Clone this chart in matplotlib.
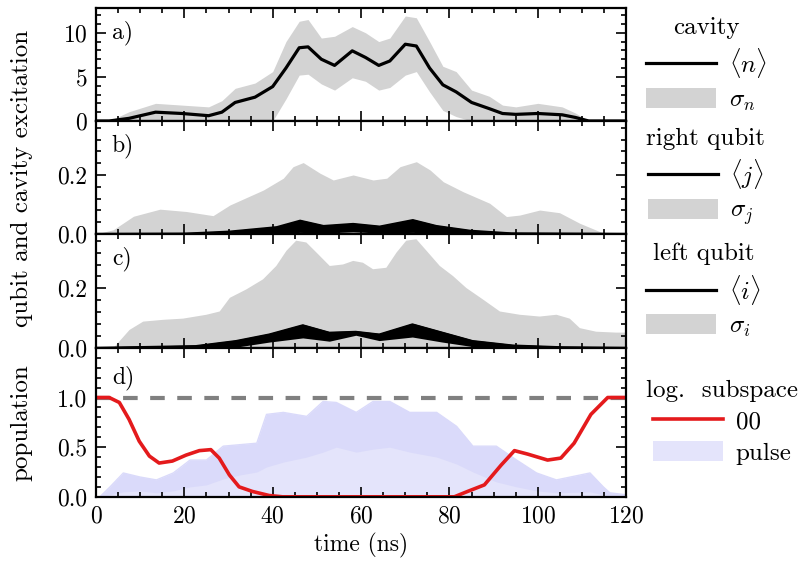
import matplotlib
matplotlib.use("Agg")
from matplotlib import pyplot as plt
from matplotlib.lines import Line2D
from matplotlib.ticker import MultipleLocator, FormatStrFormatter

# fonts: computer modern look
plt.rcParams['font.family'] = 'serif'
plt.rcParams['font.serif'] = ['cmr10']
plt.rcParams['mathtext.fontset'] = 'cm'
plt.rcParams['axes.formatter.use_mathtext'] = True
plt.rcParams['font.size'] = 17

# panel a) cavity
t_a = [0, 3, 7.5, 13.5, 19.5, 25.5, 28.5, 31.5, 36, 40, 43, 46, 48, 51, 54, 58, 61, 64,
       66.5, 70, 72.5, 75.5, 78.5, 81.5, 85, 89, 92, 95, 100, 105.5, 108.5, 111.5, 120]
n_mean = [0, 0, 0.3, 1.0, 0.85, 0.6, 1.0, 2.1, 2.7, 3.9, 6.0, 8.3, 8.4, 7.0, 6.3, 7.95, 7.2, 6.3,
          6.8, 8.7, 8.5, 6.0, 4.1, 3.3, 2.1, 1.4, 0.85, 0.75, 0.85, 0.7, 0.4, 0, 0]
n_upper = [0, 0, 1.05, 2.0, 1.8, 1.6, 2.3, 3.7, 4.3, 5.6, 9.0, 11.3, 11.5, 9.4, 9.6, 10.7, 10.0, 9.0,
           9.4, 11.9, 11.7, 9.0, 6.2, 5.6, 3.5, 2.8, 1.8, 1.6, 2.0, 1.6, 0.9, 0, 0]
n_lower = [0, 0, 0, 0, 0, 0, 0, 0, 0, 0, 2.5, 5.2, 5.3, 4.2, 3.5, 4.9, 4.5, 3.5,
           3.8, 5.2, 5.6, 3.3, 1.2, 0.5, 0, 0, 0, 0, 0, 0, 0, 0, 0]

# panel b) right qubit
t_sj = [0, 3.9, 8.5, 14.5, 20.5, 26.5, 30.3, 37.9, 42.4, 44.6, 46.9, 50.7, 53.7, 58.2, 62.7,
        65.8, 68.8, 72.5, 75.6, 78.6, 83.1, 89.1, 92.9, 95.9, 100.4, 104.9, 109.5, 114, 115.5, 120]
sigma_j = [0, 0.014, 0.06, 0.084, 0.076, 0.062, 0.098, 0.149, 0.189, 0.228, 0.242, 0.206, 0.183, 0.2, 0.183,
           0.189, 0.228, 0.245, 0.217, 0.177, 0.143, 0.104, 0.059, 0.064, 0.081, 0.072, 0.036, 0.008, 0, 0]
t_j = [0, 20, 30.3, 40.9, 46.2, 51.5, 58.2, 64.2, 71.7, 77, 84.6, 94, 120]
j_hi = [0, 0.001, 0.008, 0.023, 0.045, 0.027, 0.034, 0.025, 0.047, 0.027, 0.011, 0.002, 0]
j_lo = [0, 0, 0.002, 0.005, 0.008, 0.006, 0.01, 0.006, 0.008, 0.005, 0.002, 0, 0]

# panel c) left qubit
t_si = [0, 3.8, 7.5, 10.6, 15.1, 19.6, 24.9, 27.9, 30.2, 33.9, 37.7, 40.7, 43, 45.2, 47.5, 49.8,
        52.8, 55.8, 58.1, 60.3, 62.6, 65.6, 67.9, 70.1, 72.4, 74.7, 77.7, 80.7, 83.7, 87.5, 91.3,
        95.8, 100.3, 104.1, 107.1, 109.4, 113.1, 117.6, 120]
sigma_i = [0, 0, 0.062, 0.09, 0.096, 0.1, 0.113, 0.124, 0.17, 0.198, 0.232, 0.277, 0.328, 0.362, 0.356, 0.322,
           0.277, 0.282, 0.294, 0.288, 0.266, 0.271, 0.322, 0.362, 0.367, 0.328, 0.277, 0.243, 0.203, 0.164, 0.124,
           0.113, 0.107, 0.113, 0.1, 0.068, 0.056, 0.053, 0.053]
t_i = [0, 22.6, 31.7, 39.2, 46.8, 52.8, 58.8, 64.1, 71.6, 78.4, 85.2, 94.3, 105.6, 120]
i_hi = [0, 0.006, 0.023, 0.045, 0.076, 0.051, 0.054, 0.045, 0.079, 0.051, 0.023, 0.008, 0.002, 0]
i_lo = [0, 0, 0.006, 0.023, 0.037, 0.026, 0.046, 0.028, 0.04, 0.023, 0.008, 0.001, 0, 0]

# panel d) population
t_00 = [0, 3, 5.3, 7.5, 9.8, 12.1, 14.3, 17.3, 20.4, 23.4, 26, 27.9, 30.2, 32.4, 35.4, 39.2, 42.2,
        81.1, 84.1, 87.9, 91.7, 94.7, 97.7, 102.2, 105.2, 108.2, 112, 115.8, 120]
pop_00 = [1.0, 1.0, 0.95, 0.78, 0.56, 0.41, 0.34, 0.36, 0.42, 0.465, 0.475, 0.39, 0.22, 0.10, 0.054, 0.013, 0,
          0, 0.054, 0.12, 0.32, 0.465, 0.43, 0.37, 0.39, 0.54, 0.83, 1.0, 1.0]
t_p = [0, 0.9, 3.2, 6.2, 9.9, 13.7, 17.5, 21.3, 25, 28.8, 32.6, 36.4, 38.6, 42.4, 47.7, 51.4,
       54.4, 58.9, 62.7, 66.5, 71, 77.1, 81.6, 85.3, 90.6, 95.2, 99.7, 104.2, 111.8, 114.8, 116.3, 120]
pulse_hi = [0, 0, 0.1, 0.24, 0.2, 0.17, 0.24, 0.37, 0.37, 0.51, 0.525, 0.54, 0.83, 0.85, 0.81, 0.96,
            0.95, 0.85, 0.96, 0.96, 0.85, 0.85, 0.71, 0.51, 0.51, 0.37, 0.24, 0.17, 0.24, 0.1, 0.04, 0.02]
pulse_lo = [0, 0, 0.02, 0.05, 0.06, 0.04, 0.06, 0.1, 0.12, 0.18, 0.22, 0.25, 0.3, 0.35, 0.4, 0.45,
            0.5, 0.45, 0.48, 0.5, 0.45, 0.4, 0.33, 0.25, 0.15, 0.1, 0.06, 0.04, 0.05, 0.02, 0.01, 0]

gray = '#d3d3d3'
red = '#e41a1c'
lav = '#e4e4fb'
lav_dark = '#dadafa'

fig = plt.figure(figsize=(8.06, 5.75), dpi=100)
gs = fig.add_gridspec(4, 1, height_ratios=[113, 113, 114, 149], hspace=0,
                      left=0.119, right=0.777, top=0.986, bottom=0.136)
axes = [fig.add_subplot(gs[k]) for k in range(4)]

# a)
ax = axes[0]
ax.fill_between(t_a, n_lower, n_upper, color=gray, lw=0, label=r'$\sigma_n$')
ax.plot(t_a, n_mean, color='k', lw=2.3, label=r'$\langle n\rangle$')
ax.set_ylim(0, 12.8)
ax.yaxis.set_major_locator(MultipleLocator(5))
ax.yaxis.set_minor_locator(MultipleLocator(1))

# b)
ax = axes[1]
ax.fill_between(t_sj, 0, sigma_j, color=gray, lw=0, label=r'$\sigma_j$')
ax.fill_between(t_j, j_lo, j_hi, color='k', lw=1.2)
ax.plot(t_j, j_hi, color='k', lw=1.5)
ax.plot([], [], color='k', lw=2.3, label=r'$\langle j\rangle$')
ax.set_ylim(0, 0.383)

# c)
ax = axes[2]
ax.fill_between(t_si, 0, sigma_i, color=gray, lw=0, label=r'$\sigma_i$')
ax.fill_between(t_i, i_lo, i_hi, color='k', lw=1.5)
ax.plot(t_i, i_hi, color='k', lw=1.5)
ax.plot([], [], color='k', lw=2.3, label=r'$\langle i\rangle$')
ax.set_ylim(0, 0.383)

for ax in axes[1:3]:
    ax.yaxis.set_major_locator(MultipleLocator(0.2))
    ax.yaxis.set_minor_locator(MultipleLocator(0.04))
    ax.yaxis.set_major_formatter(FormatStrFormatter('%.1f'))

# d)
ax = axes[3]
ax.fill_between(t_p, 0, pulse_hi, color=lav, lw=0, label='pulse')
ax.fill_between(t_p, pulse_lo, pulse_hi, color=lav_dark, lw=0)
ax.plot(t_p, pulse_hi, color=lav_dark, lw=1)
ax.axhline(1.0, color='gray', lw=3, ls=(0, (3.5, 3)))
ax.plot(t_00, pop_00, color=red, lw=2.6, label='00')
ax.set_ylim(0, 1.5)
ax.set_yticks([0, 0.5, 1.0])
ax.yaxis.set_minor_locator(MultipleLocator(0.1))
ax.yaxis.set_major_formatter(FormatStrFormatter('%.1f'))
ax.set_xlabel('time (ns)', labelpad=4)

titles = ['cavity', 'right qubit', 'left qubit', 'log.  subspace']
labels = ['a)', 'b)', 'c)', 'd)']
for k, ax in enumerate(axes):
    ax.set_xlim(0, 120)
    ax.xaxis.set_major_locator(MultipleLocator(20))
    ax.xaxis.set_minor_locator(MultipleLocator(5))
    ax.tick_params(which='both', direction='in', top=True, right=True, width=1.2)
    ax.tick_params(which='major', length=7, pad=6)
    ax.tick_params(which='minor', length=3.5)
    for s in ax.spines.values():
        s.set_linewidth(1.6)
    if k < 3:
        ax.tick_params(labelbottom=False)
    ypos = 0.78 if k < 3 else 0.8
    ax.text(0.03, ypos, labels[k], transform=ax.transAxes, va='center', ha='left')
    h, l = ax.get_legend_handles_labels()
    # line first, band second
    h, l = h[::-1], l[::-1]
    ax.legend(h, l, title=titles[k], loc='center left', bbox_to_anchor=(1.0, 0.5),
              frameon=False, handlelength=2.8, handleheight=0.85, labelspacing=0.3,
              handletextpad=0.5, borderaxespad=0.5, borderpad=0.3,
              fontsize=18, title_fontsize=18, alignment='center')

fig.text(0.027, 0.69, 'qubit and cavity excitation', rotation=90, ha='center', va='center',
         fontsize=18)
fig.text(0.027, 0.265, 'population', rotation=90, ha='center', va='center', fontsize=18)

fig.savefig('out.png', dpi=100)
